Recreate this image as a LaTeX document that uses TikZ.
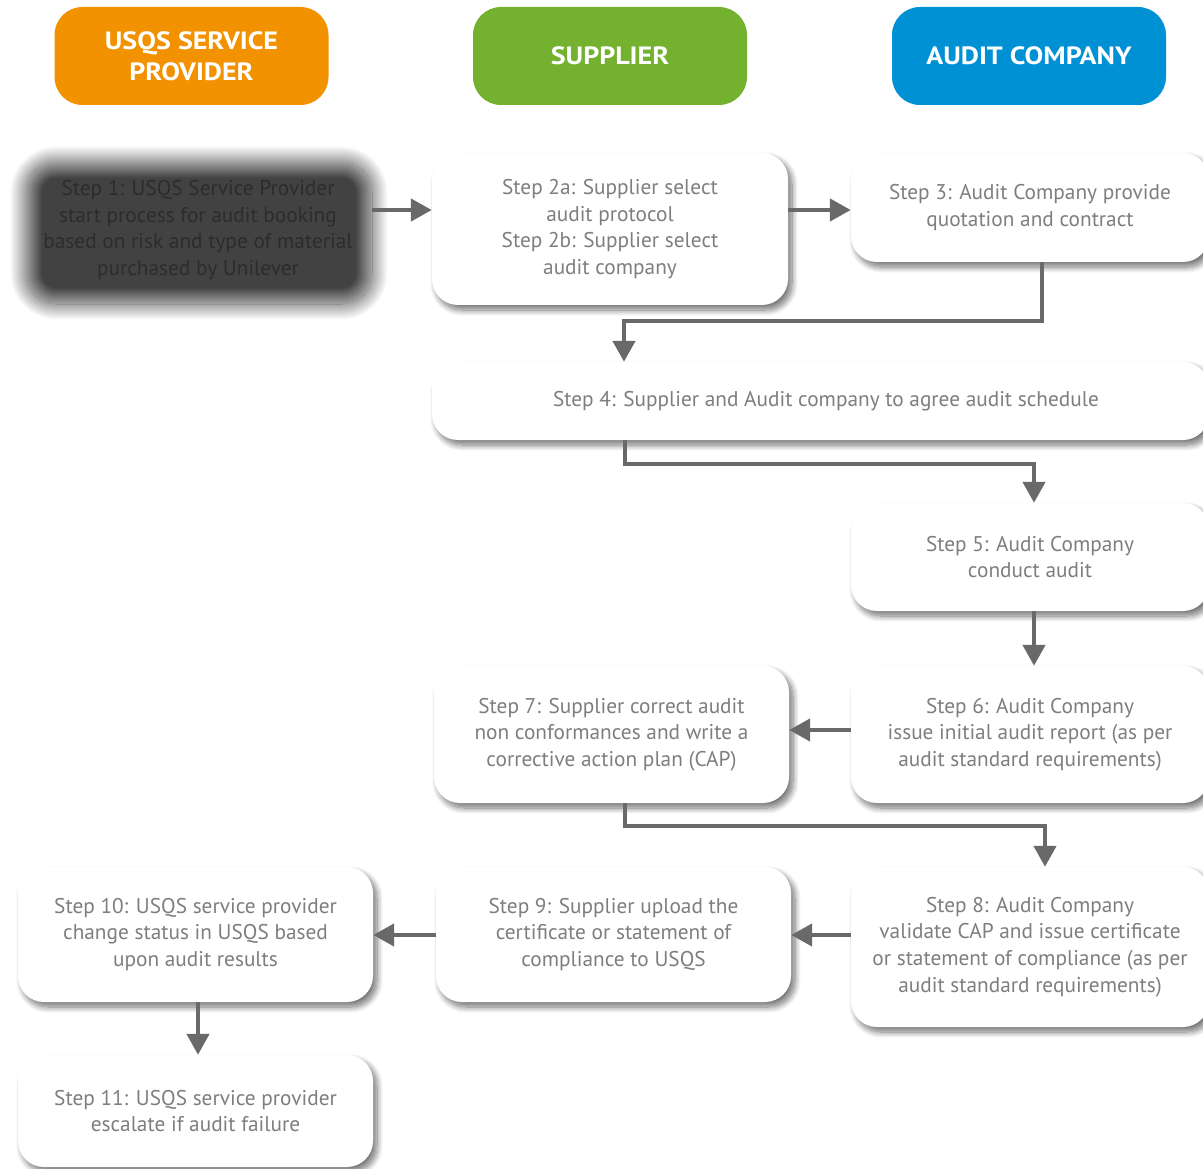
\documentclass[tikz,border=0pt]{standalone}
\usepackage{fontspec}
\setmainfont{PT Sans}
\newfontfamily\hdfont{PT Sans}[FakeStretch=1.12]
\usetikzlibrary{arrows.meta,shadows.blur}
\definecolor{hdorange}{HTML}{F39200}
\definecolor{hdgreen}{HTML}{73B12F}
\definecolor{hdblue}{HTML}{0091D5}
\definecolor{txtgray}{HTML}{7E7E7E}
\definecolor{arrgray}{HTML}{696969}
\definecolor{darkbox}{HTML}{454545}
\definecolor{darktxt}{HTML}{2C2C2C}
\tikzset{
  header/.style={rounded corners=28pt, minimum width=274pt, minimum height=98pt, inner sep=0pt, align=center, text=white, font=\hdfont\fontsize{25}{31}\selectfont\bfseries},
  bodyfont/.style={font=\fontsize{21.3}{26.7}\selectfont},
  stepbox/.style={rounded corners=26pt, fill=white, inner sep=0pt, align=center, text=txtgray, bodyfont,
    blur shadow={shadow xshift=4pt, shadow yshift=-5pt, shadow blur radius=6pt, shadow opacity=55, shadow blur steps=12}},
  darkstep/.style={rounded corners=30pt, inner sep=0pt, align=center, text=darktxt, bodyfont,
    blur shadow={shadow xshift=1pt, shadow yshift=-3pt, shadow blur radius=16pt, shadow opacity=74, shadow scale=1, shadow blur steps=40}},
  arr/.style={draw=arrgray, line width=4.5pt, -{Triangle[length=21pt,width=22pt]}},
}
\begin{document}
\begin{tikzpicture}[x=1pt,y=-1pt]
\useasboundingbox (0,0) rectangle (1203,1169);
% headers
\node[header, fill=hdorange] (h1) at (191.5,56) {USQS SERVICE\\PROVIDER};
\node[header, fill=hdgreen] (h2) at (610,56) {SUPPLIER};
\node[header, fill=hdblue] (h3) at (1029,56) {AUDIT COMPANY};
% steps
\node[darkstep, minimum width=346pt, minimum height=142pt] (s1) at (198,230) {Step 1: USQS Service Provider\\start process for audit booking\\based on risk and type of material\\purchased by Unilever};
\node[stepbox, minimum width=356pt, minimum height=152pt] (s2) at (610,229) {Step 2a: Supplier select\\audit protocol\\Step 2b: Supplier select\\audit company};
\node[stepbox, minimum width=358pt, minimum height=109pt] (s3) at (1030,207.5) {Step 3: Audit Company provide\\quotation and contract};
\node[stepbox, minimum width=777pt, minimum height=78pt] (s4) at (820.5,401) {\hspace*{11pt}Step 4: Supplier and Audit company to agree audit schedule};
\node[stepbox, minimum width=358pt, minimum height=108pt] (s5) at (1030,557) {Step 5: Audit Company\\conduct audit};
\node[stepbox, minimum width=358pt, minimum height=137pt] (s6) at (1030,734.5) {Step 6: Audit Company\\issue initial audit report (as per\\audit standard requirements)};
\node[stepbox, minimum width=355pt, minimum height=137pt] (s7) at (611.5,734.5) {Step 7: Supplier correct audit\\non conformances and write a\\corrective action plan (CAP)};
\node[stepbox, minimum width=358pt, minimum height=160pt] (s8) at (1030,947) {Step 8: Audit Company\\validate CAP and issue certificate\\or statement of compliance (as per\\audit standard requirements)};
\node[stepbox, minimum width=355pt, minimum height=135pt] (s9) at (613.5,934.5) {Step 9: Supplier upload the\\certificate or statement of\\compliance to USQS};
\node[stepbox, minimum width=355pt, minimum height=135pt] (s10) at (195.5,934.5) {Step 10: USQS service provider\\change status in USQS based\\upon audit results};
\node[stepbox, minimum width=355pt, minimum height=112pt] (s11) at (195.5,1111) {Step 11: USQS service provider\\escalate if audit failure};
% helper coordinates
\coordinate (ya) at (372,210);
\coordinate (ca) at (1042,321);
\coordinate (cb) at (624,321);
\coordinate (da) at (625,464);
\coordinate (db) at (1034,464);
\coordinate (ea) at (1034,0);
\coordinate (fa) at (0,730);
\coordinate (ga) at (625,826);
\coordinate (gb) at (1045,826);
\coordinate (ha) at (0,935);
\coordinate (ka) at (198,0);
% connectors
\draw[arr] (ya) -- (s2.west |- ya);
\draw[arr] (s2.east |- ya) -- (s3.west |- ya);
\draw[arr] (s3.south -| ca) -- (ca) -- (cb) -- (s4.north -| cb);
\draw[arr] (s4.south -| da) -- (da) -- (db) -- (s5.north -| db);
\draw[arr] (s5.south -| ea) -- (s6.north -| ea);
\draw[arr] (s6.west |- fa) -- (s7.east |- fa);
\draw[arr] (s7.south -| ga) -- (ga) -- (gb) -- (s8.north -| gb);
\draw[arr] (s8.west |- ha) -- (s9.east |- ha);
\draw[arr] (s9.west |- ha) -- (s10.east |- ha);
\draw[arr] (s10.south -| ka) -- (s11.north -| ka);
\end{tikzpicture}
\end{document}
